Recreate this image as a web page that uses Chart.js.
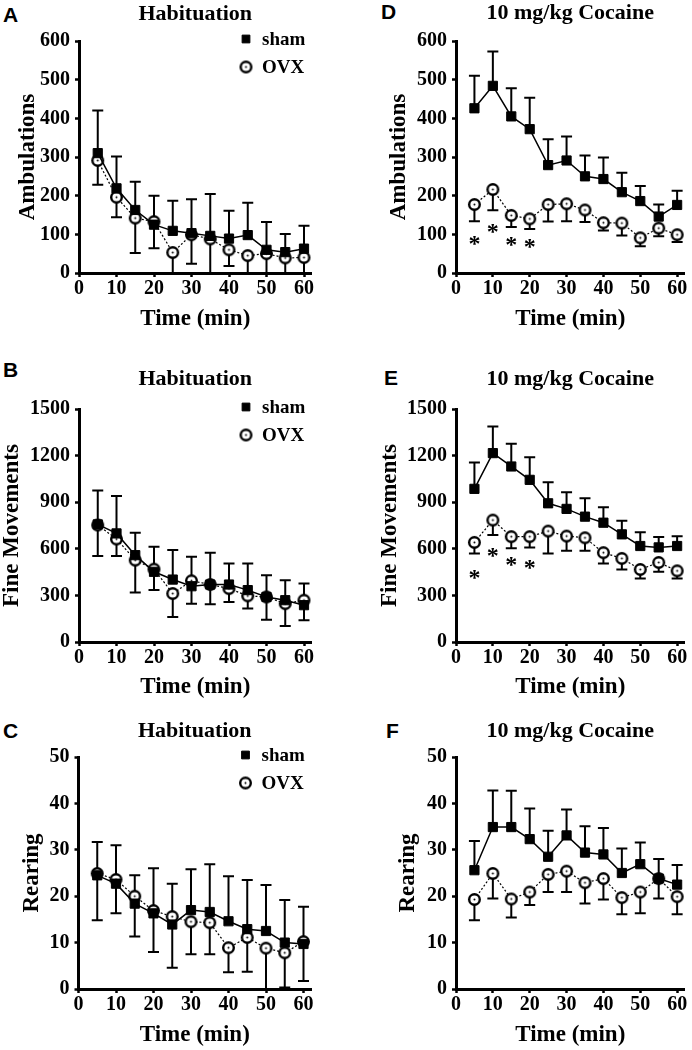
<!DOCTYPE html>
<html>
<head>
<meta charset="utf-8">
<script src="https://cdn.jsdelivr.net/npm/chart.js@4.4.1/dist/chart.umd.min.js"></script>
<style>
  body { margin: 0; width: 692px; height: 1050px; background: #fff; position: relative; overflow: hidden; }
  canvas.panel { position: absolute; }
  .letter { position: absolute; font: bold 21px 'Liberation Sans', Arial, sans-serif; line-height: 1; color: #000; }
</style>
</head>
<body>
<div class="letter" style="left:3px;top:4px">A</div>
<div class="letter" style="left:3px;top:359px">B</div>
<div class="letter" style="left:3px;top:720px">C</div>
<div class="letter" style="left:381px;top:1px">D</div>
<div class="letter" style="left:384px;top:367px">E</div>
<div class="letter" style="left:386px;top:720px">F</div>
<script>
const times = [5, 10, 15, 20, 25, 30, 35, 40, 45, 50, 55, 60];
const timeTicks = [0, 10, 20, 30, 40, 50, 60];

// ambulations, habituation
const shamAmbHab = [310, 219, 163, 125, 109, 103, 96, 89, 98, 60, 54, 63];
const shamAmbHabErr = [110, 82, 73, 75, 78, 88, 108, 72, 84, 72, 47, 59];
const ovxAmbHab = [291, 196, 142, 133, 53, 99, 88, 60, 45, 50, 39, 40];
const ovxAmbHabErr = [63, 52, 90, 69, 53, 75, 88, 42, 45, 50, 39, 40];

// ambulations, cocaine
const shamAmbCoc = [426, 484, 405, 372, 279, 291, 250, 243, 209, 186, 146, 176];
const shamAmbCocErr = [84, 89, 73, 81, 67, 62, 54, 56, 50, 39, 31, 37];
const ovxAmbCoc = [177, 216, 149, 140, 177, 179, 163, 130, 129, 91, 116, 99];
const ovxAmbCocErr = [43, 54, 30, 26, 44, 45, 31, 20, 32, 22, 21, 19];
const starTimes = [5, 10, 15, 20];
const starAmb = [89, 119, 86, 80];

// fine movements, habituation
const shamFineHab = [757, 699, 559, 452, 402, 359, 370, 370, 334, 290, 269, 237];
const shamFineHabErr = [218, 241, 145, 161, 190, 190, 205, 136, 172, 140, 129, 140];
const ovxFineHab = [753, 663, 527, 469, 312, 394, 370, 344, 297, 290, 247, 269];
const ovxFineHabErr = [200, 110, 209, 135, 151, 147, 127, 86, 82, 146, 144, 129];

// fine movements, cocaine
const shamFineCoc = [986, 1216, 1130, 1044, 893, 857, 807, 768, 693, 618, 609, 618];
const shamFineCocErr = [170, 172, 146, 146, 136, 107, 118, 99, 88, 88, 67, 62];
const ovxFineCoc = [641, 785, 678, 678, 714, 682, 671, 575, 538, 467, 512, 458];
const ovxFineCocErr = [71, 96, 75, 69, 144, 95, 84, 69, 71, 58, 60, 49];
const starFine = [441, 587, 527, 510];

// rearing, habituation
const shamRearHab = [24.5, 22.7, 18.4, 16.3, 13.9, 17.0, 16.6, 14.6, 12.9, 12.5, 10.0, 9.7];
const shamRearHabErr = [7.2, 8.3, 6.1, 9.7, 8.8, 8.8, 10.3, 9.7, 10.6, 9.9, 9.2, 8.0];
const ovxRearHab = [24.9, 23.6, 20.0, 16.9, 15.6, 14.5, 14.3, 8.9, 11.1, 8.8, 7.8, 10.2];
const ovxRearHabErr = [10.1, 7.3, 8.7, 8.9, 11.0, 7.0, 6.8, 5.3, 7.4, 8.8, 7.5, 8.5];

// rearing, cocaine
const shamRearCoc = [25.6, 34.9, 34.9, 32.3, 28.5, 33.1, 29.4, 29.0, 25.0, 26.9, 23.8, 22.5];
const shamRearCocErr = [6.3, 7.9, 7.8, 6.6, 5.6, 5.6, 5.7, 5.7, 5.3, 4.7, 4.2, 4.2];
const ovxRearCoc = [19.3, 24.9, 19.4, 20.9, 24.7, 25.4, 22.9, 23.8, 19.7, 20.9, 23.8, 19.9];
const ovxRearCocErr = [4.5, 5.4, 4.0, 2.8, 3.8, 4.5, 4.5, 4.5, 3.6, 4.6, 4.3, 3.8];

const serif = "'Liberation Serif', 'Times New Roman', serif";
const xMax = 62;
const pxPerMin = 3.75;

function ovxMarker() {
    const c = document.createElement('canvas');
    c.width = 15;
    c.height = 15;
    const g = c.getContext('2d');
    g.beginPath();
    g.arc(7.5, 7.5, 5.3, 0, Math.PI * 2);
    g.fillStyle = '#fff';
    g.fill();
    g.lineWidth = 2.4;
    g.strokeStyle = '#000';
    g.stroke();
    g.beginPath();
    g.arc(7.5, 7.5, 1, 0, Math.PI * 2);
    g.fillStyle = '#000';
    g.fill();
    return c;
}
const ovxImg = ovxMarker();

// sham bars go up, OVX bars go down
const errorBars = {
    id: 'errorBars',
    beforeDatasetsDraw(chart) {
        const { ctx, scales: { x, y } } = chart;
        ctx.save();
        ctx.strokeStyle = '#000';
        ctx.lineWidth = 2;
        chart.data.datasets.forEach(ds => {
            ds.data.forEach((p, i) => {
                const end = Math.max(p.y + ds.errDir * ds.err[i], 0);
                const px = x.getPixelForValue(p.x);
                const y0 = y.getPixelForValue(p.y);
                const y1 = y.getPixelForValue(end);
                ctx.beginPath();
                ctx.moveTo(px, y0);
                ctx.lineTo(px, y1);
                ctx.moveTo(px - 5.5, y1);
                ctx.lineTo(px + 5.5, y1);
                ctx.stroke();
            });
        });
        ctx.restore();
    }
};

const starMarks = {
    id: 'starMarks',
    afterDatasetsDraw(chart, args, opts) {
        if (!opts.x) return;
        const { ctx, scales: { x, y } } = chart;
        ctx.save();
        ctx.font = `bold 24px ${serif}`;
        ctx.textAlign = 'center';
        ctx.textBaseline = 'alphabetic';
        ctx.fillStyle = '#000';
        opts.x.forEach((t, i) => {
            ctx.fillText('*', x.getPixelForValue(t), y.getPixelForValue(opts.y[i]) + 12);
        });
        ctx.restore();
    }
};

const cornerLegend = {
    id: 'cornerLegend',
    afterDraw(chart, args, opts) {
        if (!opts.show) return;
        const { ctx, chartArea } = chart;
        ctx.save();
        ctx.font = `bold 19px ${serif}`;
        ctx.textBaseline = 'middle';
        ctx.fillStyle = '#000';
        ctx.strokeStyle = '#000';
        chart.data.datasets.forEach((ds, i) => {
            const lx = chartArea.left + 167;
            const ly = chartArea.top - 2 + i * 28;
            Chart.helpers.drawPoint(ctx, { pointStyle: ds.pointStyle, radius: 5.5, borderWidth: 1, rotation: 0 }, lx, ly);
            ctx.fillText(ds.label, lx + 16, ly + 1);
        });
        ctx.restore();
    }
};

function toPoints(values) {
    return values.map((v, i) => ({ x: times[i], y: v }));
}

function makePanel(p) {
    const canvas = document.createElement('canvas');
    canvas.className = 'panel';
    canvas.width = p.w;
    canvas.height = p.h;
    canvas.style.left = p.left + 'px';
    canvas.style.top = p.top + 'px';
    document.body.appendChild(canvas);

    const lhTitle = 22 * 1.2;
    const titleTop = p.titleY - p.top - lhTitle / 2;
    const titleBottom = (p.areaT - p.top) - titleTop - lhTitle;
    const areaR = p.areaL + xMax * pxPerMin;
    const yWidth = p.areaL - p.left;
    const xHeight = p.top + p.h - p.areaB;
    const tickFont = { family: serif, size: 20, weight: 'bold', lineHeight: 1 };

    new Chart(canvas, {
        type: 'line',
        data: {
            datasets: [
                {
                    label: 'sham',
                    data: toPoints(p.sham),
                    err: p.shamErr,
                    errDir: 1,
                    borderColor: '#000',
                    backgroundColor: '#000',
                    borderWidth: 1.5,
                    pointStyle: 'rect',
                    pointRadius: 6.5,
                    pointBorderWidth: 1,
                    tension: 0
                },
                {
                    label: 'OVX',
                    data: toPoints(p.ovx),
                    err: p.ovxErr,
                    errDir: -1,
                    borderColor: '#000',
                    backgroundColor: '#fff',
                    borderWidth: 1.2,
                    borderDash: [2, 2],
                    pointStyle: ovxImg,
                    pointRadius: 6,
                    tension: 0
                }
            ]
        },
        options: {
            responsive: false,
            animation: false,
            layout: { padding: { left: 0, top: 0, bottom: 0, right: p.left + p.w - areaR } },
            plugins: {
                legend: { display: false },
                tooltip: { enabled: false },
                title: {
                    display: true,
                    text: p.title,
                    fullSize: false,
                    color: '#000',
                    font: { family: serif, size: 22, weight: 'bold', lineHeight: 1.2 },
                    padding: { top: titleTop, bottom: titleBottom }
                },
                cornerLegend: { show: p.legend },
                starMarks: p.stars || {}
            },
            scales: {
                x: {
                    type: 'linear',
                    min: 0,
                    max: xMax,
                    afterFit: s => { s.height = xHeight; },
                    afterBuildTicks: s => { s.ticks = timeTicks.map(v => ({ value: v })); },
                    border: { display: true, color: '#000', width: 3 },
                    grid: { drawOnChartArea: false, drawTicks: true, tickLength: 4, tickWidth: 2.5, tickColor: '#000', color: '#000' },
                    ticks: {
                        color: '#000',
                        padding: 2,
                        maxRotation: 0,
                        font: tickFont,
                        callback: v => String(v)
                    },
                    title: {
                        display: true,
                        text: 'Time (min)',
                        color: '#000',
                        font: { family: serif, size: 23, weight: 'bold', lineHeight: 1 },
                        padding: { top: 0, bottom: p.top + p.h - p.xTitleY - 11.5 }
                    }
                },
                y: {
                    min: 0,
                    max: p.yMax,
                    afterFit: s => { s.width = yWidth; },
                    border: { display: true, color: '#000', width: 3 },
                    grid: { drawOnChartArea: false, drawTicks: true, tickLength: 4, tickWidth: 2.5, tickColor: '#000', color: '#000' },
                    ticks: {
                        stepSize: p.yStep,
                        color: '#000',
                        padding: 5,
                        font: tickFont,
                        callback: v => String(v)
                    },
                    title: {
                        display: true,
                        text: p.yLabel,
                        color: '#000',
                        font: { family: serif, size: 23, weight: 'bold', lineHeight: 1 },
                        padding: { top: p.yTitleX - p.left - 11.5, bottom: 0 }
                    }
                }
            }
        },
        plugins: [errorBars, starMarks, cornerLegend]
    });
}

const panels = [
    { left: 0, top: 0, w: 346, h: 345, areaL: 79, areaT: 41, areaB: 273, yTitleX: 28.5, titleY: 14, xTitleY: 319,
      title: 'Habituation', yLabel: 'Ambulations', yMax: 600, yStep: 100, legend: true,
      sham: shamAmbHab, shamErr: shamAmbHabErr, ovx: ovxAmbHab, ovxErr: ovxAmbHabErr },
    { left: 346, top: 0, w: 346, h: 345, areaL: 456, areaT: 41, areaB: 273, yTitleX: 399, titleY: 13, xTitleY: 319,
      title: '10 mg/kg Cocaine', yLabel: 'Ambulations', yMax: 600, yStep: 100, legend: false,
      sham: shamAmbCoc, shamErr: shamAmbCocErr, ovx: ovxAmbCoc, ovxErr: ovxAmbCocErr,
      stars: { x: starTimes, y: starAmb } },
    { left: 0, top: 345, w: 346, h: 360, areaL: 79, areaT: 409, areaB: 642, yTitleX: 12.5, titleY: 379, xTitleY: 687,
      title: 'Habituation', yLabel: 'Fine Movements', yMax: 1500, yStep: 300, legend: true,
      sham: shamFineHab, shamErr: shamFineHabErr, ovx: ovxFineHab, ovxErr: ovxFineHabErr },
    { left: 346, top: 345, w: 346, h: 360, areaL: 456, areaT: 409, areaB: 642, yTitleX: 390, titleY: 379, xTitleY: 687,
      title: '10 mg/kg Cocaine', yLabel: 'Fine Movements', yMax: 1500, yStep: 300, legend: false,
      sham: shamFineCoc, shamErr: shamFineCocErr, ovx: ovxFineCoc, ovxErr: ovxFineCocErr,
      stars: { x: starTimes, y: starFine } },
    { left: 0, top: 705, w: 346, h: 345, areaL: 78.5, areaT: 757, areaB: 989, yTitleX: 32, titleY: 731, xTitleY: 1035,
      title: 'Habituation', yLabel: 'Rearing', yMax: 50, yStep: 10, legend: true,
      sham: shamRearHab, shamErr: shamRearHabErr, ovx: ovxRearHab, ovxErr: ovxRearHabErr },
    { left: 346, top: 705, w: 346, h: 345, areaL: 456, areaT: 757, areaB: 989, yTitleX: 408.5, titleY: 731, xTitleY: 1035,
      title: '10 mg/kg Cocaine', yLabel: 'Rearing', yMax: 50, yStep: 10, legend: false,
      sham: shamRearCoc, shamErr: shamRearCocErr, ovx: ovxRearCoc, ovxErr: ovxRearCocErr }
];

panels.forEach(makePanel);
</script>
</body>
</html>
